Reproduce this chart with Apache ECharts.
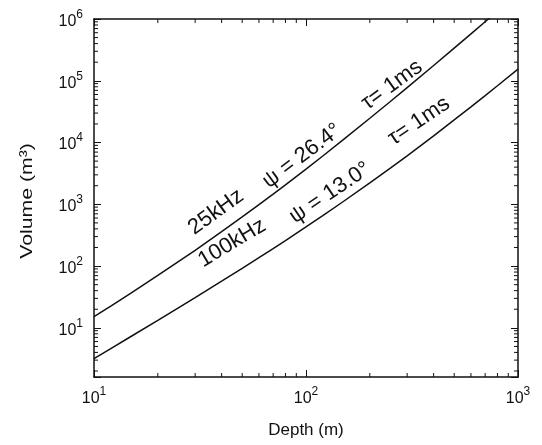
<!DOCTYPE html>
<html>
<head>
<meta charset="utf-8">
<script src="https://cdn.jsdelivr.net/npm/echarts@6/dist/echarts.min.js"></script>
<style>
html,body{margin:0;padding:0;background:#fff;}
#chart{width:542px;height:445px;}
</style>
</head>
<body>
<div id="chart"></div>
<script>
// ---- data ----
const depth = [10, 12, 15, 20, 25, 30, 40, 50, 60, 70, 80, 100, 120, 150, 200, 250, 300, 400, 500, 600, 700, 800, 1000];
const vol25kHz = [15.2, 22.5, 36.9, 70.4, 118, 180, 360, 624, 986, 1462, 2067, 3720, 6060, 11130, 24700, 46200, 77600, 177000, 338000, 575000, 903000, 1336000, 2580000];
const vol100kHz = [3.18, 4.62, 7.31, 13.2, 21.1, 30.9, 56.9, 92, 137, 192, 259, 430, 655, 1110, 2220, 3850, 6100, 12800, 23200, 37800, 57500, 83100, 154600];
const xMinorTicks = [20, 30, 40, 50, 60, 70, 80, 90, 200, 300, 400, 500, 600, 700, 800, 900];
const yMinorTicks = [2, 3, 4, 5, 6, 7, 8, 9,
  20, 30, 40, 50, 60, 70, 80, 90,
  200, 300, 400, 500, 600, 700, 800, 900,
  2000, 3000, 4000, 5000, 6000, 7000, 8000, 9000,
  20000, 30000, 40000, 50000, 60000, 70000, 80000, 90000,
  200000, 300000, 400000, 500000, 600000, 700000, 800000, 900000];
const xTitle = 'Depth (m)';
const yTitle = 'Volume (m³)';
const labels25 = ['25kHz', 'ψ = 26.4°', 'τ= 1ms'];
const labels100 = ['100kHz', 'ψ = 13.0°', 'τ= 1ms'];

const FONT = '"Liberation Sans", Arial, Helvetica, sans-serif';
const INK = '#111';

function powLabel(v) {
  const e = Math.log10(v);
  const r = Math.round(e);
  if (Math.abs(e - r) > 1e-6) return '';
  return '{b|10}{s|' + r + '}';
}
const richSup = {
  b: { fontSize: 16, fontFamily: FONT, color: INK, lineHeight: 21, verticalAlign: 'bottom' },
  s: { fontSize: 12, fontFamily: FONT, color: INK, lineHeight: 12, verticalAlign: 'top' }
};

const chart = echarts.init(document.getElementById('chart'), null, { renderer: 'canvas' });

function minorTickSeries(values, isX) {
  return {
    type: 'custom',
    xAxisIndex: 0,
    yAxisIndex: 0,
    silent: true,
    clip: false,
    z: 5,
    data: values.map(v => isX ? [v, 10] : [10, v]),
    renderItem: function (params, api) {
      const cs = params.coordSys;
      const len = 4;
      if (isX) {
        const px = api.coord([api.value(0), 10])[0];
        return {
          type: 'group', children: [
            { type: 'line', shape: { x1: px, y1: cs.y + cs.height, x2: px, y2: cs.y + cs.height - len }, style: { stroke: INK, lineWidth: 1 } },
            { type: 'line', shape: { x1: px, y1: cs.y, x2: px, y2: cs.y + len }, style: { stroke: INK, lineWidth: 1 } }
          ]
        };
      } else {
        const py = api.coord([10, api.value(1)])[1];
        return {
          type: 'group', children: [
            { type: 'line', shape: { x1: cs.x, y1: py, x2: cs.x + len, y2: py }, style: { stroke: INK, lineWidth: 1 } },
            { type: 'line', shape: { x1: cs.x + cs.width, y1: py, x2: cs.x + cs.width - len, y2: py }, style: { stroke: INK, lineWidth: 1 } }
          ]
        };
      }
    }
  };
}

function curveLabels(texts, places) {
  return texts.map((t, i) => ({
    type: 'text',
    x: places[i][0],
    y: places[i][1],
    rotation: places[i][2] * Math.PI / 180,
    silent: true,
    style: { text: t, fontSize: 22, fontFamily: FONT, fill: INK, align: 'center', verticalAlign: 'middle' }
  }));
}

const axisCommon = {
  type: 'log',
  logBase: 10,
  axisLine: { show: true, onZero: false, lineStyle: { color: INK, width: 1.5 } },
  axisTick: { show: true, inside: true, length: 7, lineStyle: { color: INK, width: 1 } },
  splitLine: { show: false },
  minorTick: { show: false },
  minorSplitLine: { show: false }
};

const option = {
  animation: false,
  backgroundColor: '#fff',
  grid: { left: 94, right: 24, top: 19, bottom: 68, containLabel: false },
  xAxis: [
    Object.assign({}, axisCommon, {
      position: 'bottom', min: 10, max: 1000,
      name: xTitle, nameLocation: 'middle', nameGap: 45,
      nameTextStyle: { fontSize: 17, fontFamily: FONT, color: INK },
      axisLabel: { show: true, margin: 9, fontSize: 16, fontFamily: FONT, color: INK, formatter: powLabel, rich: richSup, showMinLabel: true, showMaxLabel: true }
    }),
    Object.assign({}, axisCommon, {
      position: 'top', min: 10, max: 1000,
      axisLabel: { show: false }
    })
  ],
  yAxis: [
    Object.assign({}, axisCommon, {
      position: 'left', min: 1.6, max: 1000000,
      axisLabel: { show: true, margin: 11, fontSize: 16, fontFamily: FONT, color: INK, formatter: powLabel, rich: richSup, showMinLabel: true, showMaxLabel: true }
    }),
    Object.assign({}, axisCommon, {
      position: 'right', min: 1.6, max: 1000000,
      axisLabel: { show: false }
    })
  ],
  series: [
    {
      name: '25kHz', type: 'line', xAxisIndex: 0, yAxisIndex: 0,
      data: depth.map((d, i) => [d, vol25kHz[i]]),
      showSymbol: false, symbol: 'none', smooth: false, clip: true,
      lineStyle: { color: INK, width: 1.5 }, z: 3
    },
    {
      name: '100kHz', type: 'line', xAxisIndex: 0, yAxisIndex: 0,
      data: depth.map((d, i) => [d, vol100kHz[i]]),
      showSymbol: false, symbol: 'none', smooth: false, clip: true,
      lineStyle: { color: INK, width: 1.5 }, z: 3
    },
    minorTickSeries(xMinorTicks, true),
    minorTickSeries(yMinorTicks, false)
  ],
  graphic: [
    {
      type: 'text', x: 27, y: 201, rotation: Math.PI / 2, scaleX: 1.25, silent: true,
      style: { text: yTitle, fontSize: 17, fontFamily: FONT, fill: INK, align: 'center', verticalAlign: 'middle' }
    }
  ].concat(
    curveLabels(labels25, [[216, 212, 36], [302, 156, 37], [392, 85, 36]]),
    curveLabels(labels100, [[232, 243, 31], [330, 193, 34], [419, 121, 34]])
  )
};

chart.setOption(option);
</script>
</body>
</html>
